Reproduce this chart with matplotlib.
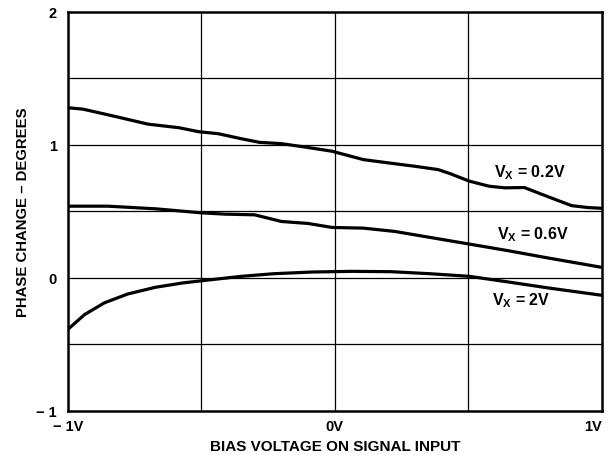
import matplotlib
matplotlib.use("Agg")
import matplotlib.pyplot as plt

plt.rcParams['font.family'] = ['Liberation Sans', 'DejaVu Sans']
plt.rcParams['font.weight'] = 'bold'
plt.rcParams['mathtext.fontset'] = 'custom'
plt.rcParams['mathtext.rm'] = 'Liberation Sans:bold'
plt.rcParams['mathtext.it'] = 'Liberation Sans:bold'
plt.rcParams['mathtext.bf'] = 'Liberation Sans:bold'

# Vx = 0.2V
x_02 = [-1.0, -0.944, -0.834, -0.70, -0.584, -0.51, -0.437, -0.35, -0.282, -0.20, -0.113, -0.01,
        0.107, 0.21, 0.30, 0.387, 0.43, 0.504, 0.578, 0.637, 0.71, 0.80, 0.887, 0.946, 1.0]
y_02 = [1.28, 1.27, 1.22, 1.157, 1.13, 1.10, 1.085, 1.047, 1.02, 1.01, 0.985, 0.953,
        0.89, 0.863, 0.84, 0.815, 0.786, 0.728, 0.69, 0.678, 0.68, 0.61, 0.544, 0.53, 0.524]

# Vx = 0.6V
x_06 = [-1.0, -0.85, -0.67, -0.50, -0.41, -0.30, -0.20, -0.10, -0.01, 0.107, 0.225, 0.357,
        0.504, 0.65, 0.80, 1.0]
y_06 = [0.54, 0.54, 0.52, 0.49, 0.48, 0.475, 0.425, 0.41, 0.38, 0.375, 0.35, 0.305,
        0.255, 0.205, 0.15, 0.08]

# Vx = 2V
x_2 = [-1.0, -0.937, -0.863, -0.775, -0.672, -0.569, -0.495, -0.35, -0.23, -0.084, 0.063,
       0.21, 0.357, 0.504, 0.65, 0.80, 1.0]
y_2 = [-0.387, -0.275, -0.187, -0.12, -0.07, -0.037, -0.02, 0.0125, 0.032, 0.045, 0.05,
       0.0475, 0.032, 0.0125, -0.03, -0.075, -0.13]

x_ticks = [-1, 0, 1]
x_ticklabels = ['\u2212 1V', '0V', '1V']
y_ticks = [-1, 0, 1, 2]
y_ticklabels = ['\u2212 1', '0', '1', '2']

labels = [r'V$_{\rm X}$ = 0.2V', r'V$_{\rm X}$ = 0.6V', r'V$_{\rm X}$ = 2V']
label_pos = [(0.73, 0.80), (0.74, 0.33), (0.70, -0.16)]

fig = plt.figure(figsize=(6.16, 4.56), dpi=100)
ax = fig.add_axes([0.110, 0.0965, 0.867, 0.875])

ax.set_xlim(-1, 1)
ax.set_ylim(-1, 2)

for gx in [-0.5, 0, 0.5]:
    ax.axvline(gx, color='black', lw=0.9, zorder=1)
for gy in [-0.5, 0, 0.5, 1, 1.5]:
    ax.axhline(gy, color='black', lw=0.9, zorder=1)

for xs, ys in [(x_02, y_02), (x_06, y_06), (x_2, y_2)]:
    ax.plot(xs, ys, color='black', lw=2.3, solid_capstyle='butt', zorder=3)

for t, (tx, ty) in zip(labels, label_pos):
    ax.text(tx, ty, t, ha='center', va='center', fontsize=11.5, fontweight='bold')

for s in ax.spines.values():
    s.set_linewidth(1.8)
    s.set_color('black')

ax.set_xticks(x_ticks)
ax.set_xticklabels(x_ticklabels)
ax.set_yticks(y_ticks)
ax.set_yticklabels(y_ticklabels)
ax.tick_params(length=0, labelsize=10.5, pad=6)
ax.tick_params(axis='y', pad=8)
for lbl in ax.get_xticklabels() + ax.get_yticklabels():
    lbl.set_fontweight('bold')
ax.get_xticklabels()[-1].set_horizontalalignment('right')

ax.set_xlabel('BIAS VOLTAGE ON SIGNAL INPUT', fontsize=11, fontweight='bold', labelpad=4)
ax.set_ylabel('PHASE CHANGE \u2013 DEGREES', fontsize=10.7, fontweight='bold', labelpad=4)

fig.savefig('out.png', dpi=100)
